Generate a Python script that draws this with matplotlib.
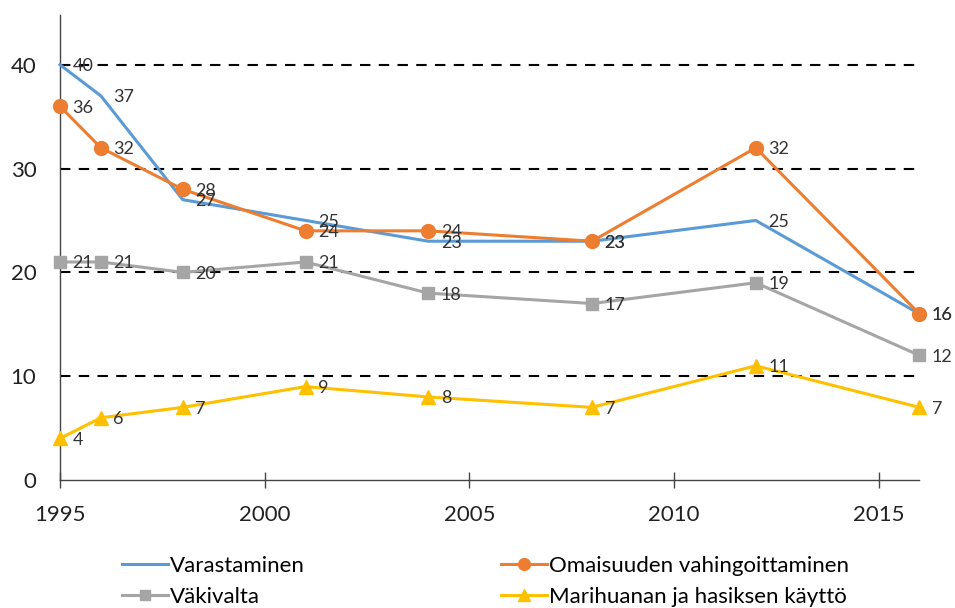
import matplotlib
matplotlib.use("Agg")
import matplotlib.pyplot as plt
from matplotlib.lines import Line2D

years = [1995, 1996, 1998, 2001, 2004, 2008, 2012, 2016]
varastaminen = [40, 37, 27, 25, 23, 23, 25, 16]
omaisuus = [36, 32, 28, 24, 24, 23, 32, 16]
vakivalta = [21, 21, 20, 21, 18, 17, 19, 12]
marihuana = [4, 6, 7, 9, 8, 7, 11, 7]
names = ["Varastaminen", "Omaisuuden vahingoittaminen", "Väkivalta",
         "Marihuanan ja hasiksen käyttö"]
yticks = [0, 10, 20, 30, 40]
xticks = [1995, 2000, 2005, 2010, 2015]

plt.rcParams['font.family'] = ['Lato', 'DejaVu Sans']

fig = plt.figure(figsize=(9.55, 6.08), dpi=100)
ax = fig.add_axes([0.0628, 0.2105, 0.9, 0.765])
ax.set_xlim(1995, 2016)
ax.set_ylim(0, 44.8)

for y in yticks[1:]:
    ax.plot([1995, 2016], [y, y], color='black', lw=1.5, ls=(0, (5, 4)), zorder=1)

series = [
    (varastaminen, '#5B9BD5', None, 0),
    (omaisuus, '#ED7D31', 'o', 10),
    (vakivalta, '#A5A5A5', 's', 8.5),
    (marihuana, '#FFC000', '^', 10),
]
handles = []
for (vals, col, mk, ms), name in zip(series, names):
    ax.plot(years, vals, color=col, lw=2.2, marker=mk, markersize=ms, zorder=3,
            clip_on=False)
    handles.append(Line2D([], [], color=col, lw=2.2, marker=mk,
                          markersize=ms * 0.85 if mk else 0))
    for x, v in zip(years, vals):
        ax.annotate(str(v), (x, v), xytext=(9, -1), textcoords='offset points',
                    ha='left', va='center', fontsize=13, color='#333333', zorder=4)

ax.set_yticks(yticks)
ax.set_xticks(xticks)
ax.tick_params(axis='y', length=0, pad=17, labelsize=16, labelcolor='#222222')
ax.tick_params(axis='x', direction='inout', length=11, width=1, color='#444444',
               pad=12.5, labelsize=16, labelcolor='#222222')
for s in ['top', 'right']:
    ax.spines[s].set_visible(False)
for s in ['left', 'bottom']:
    ax.spines[s].set_color('#444444')
    ax.spines[s].set_linewidth(1.0)

order = [0, 2, 1, 3]
fig.legend([handles[i] for i in order], [names[i] for i in order],
           loc='upper left', bbox_to_anchor=(0.107, 0.119),
           ncol=2, frameon=False, fontsize=16, handlelength=2.07,
           handletextpad=0.1, columnspacing=8.8, labelspacing=0.5)

fig.savefig("out.png", dpi=100)
